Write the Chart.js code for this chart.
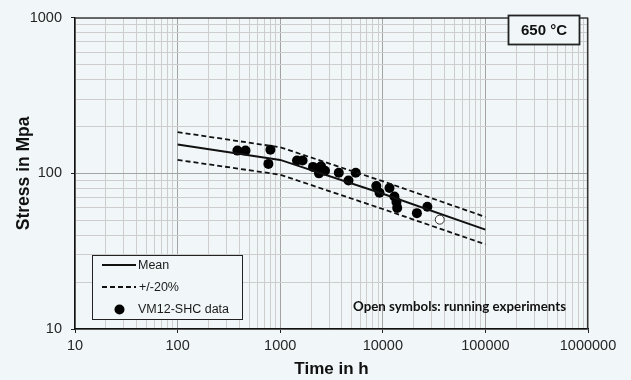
<!DOCTYPE html>
<html>
<head>
<meta charset="utf-8">
<script src="https://cdn.jsdelivr.net/npm/chart.js@4/dist/chart.umd.min.js"></script>
<style>
  html, body { margin: 0; padding: 0; background: #f1f7f9; }
  #wrap { width: 631px; height: 380px; position: relative; }
</style>
</head>
<body>
<div id="wrap"><canvas id="c" width="631" height="380"></canvas></div>
<script>
// --- data ---
const meanTime    = [100, 1000, 10000, 100000];
const meanStress  = [153, 122, 74, 43.5];
const upperStress = [184, 147, 89, 52.5];
const lowerStress = [122, 98, 59, 35];

const dataTime   = [383, 459, 767, 803, 1458, 1653, 2088, 2500, 2388, 2733, 3725, 4631, 5445, 8641, 9290, 11620, 12980, 13580, 13810, 21500, 27200];
const dataStress = [140, 140, 115, 141.6, 121, 121, 110, 111, 100, 104, 101, 90, 101, 83, 75, 80.5, 71, 65.5, 60, 55.5, 61];

const runTime   = [35900];
const runStress = [50.4];

const xDecades = [10, 100, 1000, 10000, 100000, 1000000];
const yDecades = [10, 100, 1000];
const xTickLabels = ['10', '100', '1000', '10000', '100000', '1000000'];
const yTickLabels = ['10', '100', '1000'];

const BG = '#f1f7f9';
const FONT = '"Liberation Sans", Arial, sans-serif';

const pts = (xs, ys) => xs.map((x, i) => ({ x, y: ys[i] }));

// log grid: every 1..9 step inside each decade
function logTicks(decades){
  const out = [];
  decades.forEach((d, i) => {
    if (i === decades.length - 1) { out.push({ value: d }); return; }
    for (let k = 1; k < 10; k++) out.push({ value: d * k });
  });
  return out;
}
function labelFor(decades, labels, v){
  const i = decades.findIndex(d => Math.abs(d - v) < d * 1e-6);
  return i >= 0 ? labels[i] : '';
}
const isDecade = (decades, v) => decades.some(d => Math.abs(d - v) < d * 1e-6);

const overlay = {
  id: 'overlay',
  afterDraw(chart){
    const ctx = chart.ctx, a = chart.chartArea;
    const ds = chart.data.datasets;
    ctx.save();

    // top / right frame of plot area
    ctx.strokeStyle = '#333';
    ctx.lineWidth = 1.2;
    ctx.beginPath();
    ctx.moveTo(a.left, a.top + 0.5);
    ctx.lineTo(a.right - 0.5, a.top + 0.5);
    ctx.lineTo(a.right - 0.5, a.bottom);
    ctx.stroke();

    // legend box
    ctx.fillStyle = BG;
    ctx.fillRect(92, 255, 150, 64);
    ctx.strokeStyle = '#222';
    ctx.lineWidth = 1;
    ctx.strokeRect(92.5, 255.5, 150, 64);

    ctx.font = '12.5px ' + FONT;
    ctx.fillStyle = '#1a1a1a';
    ctx.textBaseline = 'middle';
    ctx.textAlign = 'left';

    // Mean
    ctx.strokeStyle = ds[0].borderColor; ctx.lineWidth = ds[0].borderWidth;
    ctx.setLineDash([]);
    ctx.beginPath(); ctx.moveTo(102, 265); ctx.lineTo(136, 265); ctx.stroke();
    ctx.fillText(ds[0].label, 138, 266);
    // +/-20%
    ctx.strokeStyle = ds[1].borderColor; ctx.lineWidth = ds[1].borderWidth;
    ctx.setLineDash(ds[1].borderDash);
    ctx.beginPath(); ctx.moveTo(102, 287); ctx.lineTo(136, 287); ctx.stroke();
    ctx.setLineDash([]);
    ctx.fillText(ds[1].label, 139, 288);
    // data
    ctx.fillStyle = ds[3].backgroundColor;
    ctx.beginPath(); ctx.arc(119.5, 309.5, ds[3].pointRadius, 0, Math.PI * 2); ctx.fill();
    ctx.fillStyle = '#1a1a1a';
    ctx.fillText(ds[3].label, 138, 310);

    // temperature box
    ctx.fillStyle = BG;
    ctx.fillRect(508, 15, 71, 29);
    ctx.strokeStyle = '#222';
    ctx.strokeRect(508.5, 15.5, 71, 29);
    ctx.fillStyle = '#111';
    ctx.font = 'bold 15px ' + FONT;
    ctx.textAlign = 'center';
    ctx.fillText('650 °C', 544, 30.5);

    // note
    const note = 'Open symbols: running experiments';
    ctx.font = 'bold 13px Lato, "Open Sans", sans-serif';
    const w = ctx.measureText(note).width;
    const target = 213;
    ctx.translate(566, 307);
    ctx.scale(target / w, 1);
    ctx.textAlign = 'right';
    ctx.fillStyle = '#111';
    ctx.fillText(note, 0, 0);

    ctx.restore();
  }
};

new Chart(document.getElementById('c'), {
  type: 'scatter',
  data: {
    datasets: [
      { label: 'Mean', data: pts(meanTime, meanStress), showLine: true,
        borderColor: '#111', borderWidth: 2, pointRadius: 0, fill: false },
      { label: '+/-20%', data: pts(meanTime, upperStress), showLine: true,
        borderColor: '#111', borderWidth: 1.8, borderDash: [5, 3], pointRadius: 0, fill: false },
      { label: '', data: pts(meanTime, lowerStress), showLine: true,
        borderColor: '#111', borderWidth: 1.8, borderDash: [5, 3], pointRadius: 0, fill: false },
      { label: 'VM12-SHC data', data: pts(dataTime, dataStress),
        backgroundColor: '#000', borderColor: '#000', pointRadius: 5, borderWidth: 0 },
      { label: 'running', data: pts(runTime, runStress),
        backgroundColor: '#fff', borderColor: '#333', pointRadius: 4.5, borderWidth: 1 }
    ]
  },
  options: {
    responsive: false,
    animation: false,
    layout: { padding: { left: 0, right: 43, top: 11, bottom: 0 } },
    plugins: { legend: { display: false }, tooltip: { enabled: false } },
    scales: {
      x: {
        type: 'logarithmic', min: 10, max: 1000000,
        afterBuildTicks: s => { s.ticks = logTicks(xDecades); },
        afterFit: s => { s.height = 51; },
        ticks: {
          autoSkip: false, maxRotation: 0, padding: 4,
          color: '#262626', font: { family: FONT, size: 14.5 },
          callback: v => labelFor(xDecades, xTickLabels, v)
        },
        grid: {
          color: c => isDecade(xDecades, c.tick.value) ? '#a3a3a3' : '#cdcdcd',
          tickColor: c => isDecade(xDecades, c.tick.value) ? '#222' : 'rgba(0,0,0,0)',
          tickLength: 4, lineWidth: 1
        },
        border: { color: '#111', width: 1.5 },
        title: {
          display: true, text: 'Time in h', color: '#111',
          font: { family: FONT, size: 17, weight: 'bold' },
          padding: { top: 0, bottom: 0 }
        }
      },
      y: {
        type: 'logarithmic', min: 10, max: 1000,
        afterBuildTicks: s => { s.ticks = logTicks(yDecades); },
        afterFit: s => { s.width = 75; },
        ticks: {
          autoSkip: false, padding: 9,
          color: '#262626', font: { family: FONT, size: 14.5 },
          callback: v => labelFor(yDecades, yTickLabels, v)
        },
        grid: {
          color: c => isDecade(yDecades, c.tick.value) ? '#a3a3a3' : '#cdcdcd',
          tickColor: c => isDecade(yDecades, c.tick.value) ? '#222' : 'rgba(0,0,0,0)',
          tickLength: 4, lineWidth: 1
        },
        border: { color: '#111', width: 1.5 },
        title: {
          display: true, text: 'Stress in Mpa', color: '#111',
          font: { family: FONT, size: 17.5, weight: 'bold' },
          padding: { top: 14, bottom: 0 }
        }
      }
    }
  },
  plugins: [overlay]
});
</script>
</body>
</html>
